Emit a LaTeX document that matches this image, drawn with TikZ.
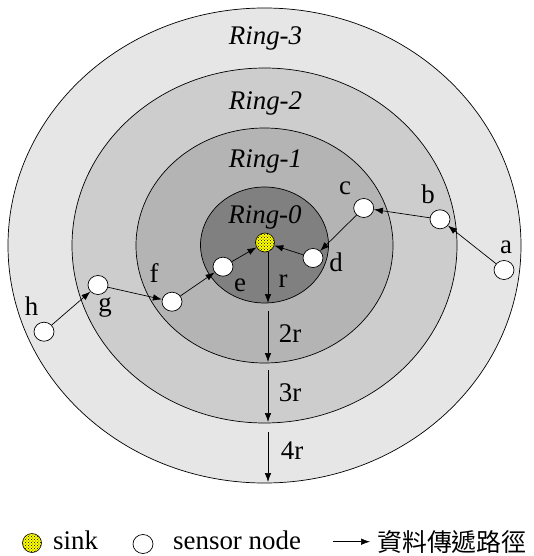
\documentclass[tikz,border=0pt]{standalone}
\usepackage{fontspec}
\setmainfont{Liberation Serif}
\newfontfamily\cjk{Noto Sans CJK TC}
\usetikzlibrary{shapes.geometric,arrows.meta,patterns}
\definecolor{ringthree}{HTML}{E6E6E6}
\definecolor{ringtwo}{HTML}{CDCDCD}
\definecolor{ringone}{HTML}{B4B4B4}
\definecolor{ringzero}{HTML}{808080}
\definecolor{sinkyellow}{HTML}{FFFF00}
\tikzset{
  ringline/.style={draw=black, line width=0.7bp},
  sensor/.style={ellipse, draw=black, fill=white, line width=0.7bp, minimum width=20bp, minimum height=19bp, inner sep=0pt},
  sinknode/.style={circle, draw=black, line width=0.6bp, minimum size=19bp, inner sep=0pt, preaction={fill=sinkyellow}, pattern=crosshatch dots, pattern color=black},
  flow/.style={line width=0.7bp, -{Latex[length=9bp,width=6.5bp]}},
  lbl/.style={font=\fontsize{27}{30}\selectfont, inner sep=0pt, anchor=base},
  ringlbl/.style={font=\fontsize{27}{30}\selectfont\itshape, inner sep=0pt, anchor=base},
}
\begin{document}
\begin{tikzpicture}[x=1bp,y=-1bp]
\useasboundingbox (0,0) rectangle (534,556);
\fill[white] (0,0) rectangle (534,556);
% rings
\path[ringline, fill=ringthree] (264.5,245.5) ellipse [x radius=256.5, y radius=237.5];
\path[ringline, fill=ringtwo] (264.5,245.5) ellipse [x radius=192.5, y radius=177.5];
\path[ringline, fill=ringone] (264.5,245.5) ellipse [x radius=128.5, y radius=117.5];
\path[ringline, fill=ringzero] (264.5,245) ellipse [x radius=64, y radius=58];
% ring labels
\node[ringlbl] (l3) at (265.5,45) {Ring-3};
\node[ringlbl] (l2) at (265.5,110) {Ring-2};
\node[ringlbl] (l1) at (265.5,168) {Ring-1};
\node[ringlbl] (l0) at (265,223) {Ring-0};
% nodes
\node[sinknode] (sink) at (265,242.5) {};
\node[sensor] (a) at (504,270) {};
\node[sensor] (b) at (440,219.3) {};
\node[sensor] (c) at (363.7,208) {};
\node[sensor] (d) at (313,258) {};
\node[sensor] (e) at (223,266.7) {};
\node[sensor] (f) at (172,301.7) {};
\node[sensor] (g) at (98,285) {};
\node[sensor] (h) at (44,331.7) {};
% node labels
\node[lbl] (la) at (506,253.3) {a};
\node[lbl] (lb) at (428,203.3) {b};
\node[lbl] (lc) at (345,194.3) {c};
\node[lbl] (ld) at (336,271) {d};
\node[lbl] (le) at (240,291.7) {e};
\node[lbl] (lf) at (154,282.7) {f};
\node[lbl] (lg) at (105,311.7) {g};
\node[lbl] (lh) at (31.7,315) {h};
% paths
\draw[flow] (a) -- (b);
\draw[flow] (b) -- (c);
\draw[flow] (c) -- (d);
\draw[flow] (d) -- (sink);
\draw[flow] (h) -- (g);
\draw[flow] (g) -- (f);
\draw[flow] (f) -- (e);
\draw[flow] (e) -- (sink);
% radius arrows
\coordinate (r1s) at (268,252);
\coordinate (r1e) at (268,303);
\coordinate (r2s) at (268,311);
\coordinate (r2e) at (268,362);
\coordinate (r3s) at (268,370);
\coordinate (r3e) at (268,422);
\coordinate (r4s) at (268,432);
\coordinate (r4e) at (268,482);
\draw[flow] (r1s) -- (r1e);
\draw[flow] (r2s) -- (r2e);
\draw[flow] (r3s) -- (r3e);
\draw[flow] (r4s) -- (r4e);
\node[lbl] (lr1) at (283,287.3) {r};
\node[lbl] (lr2) at (290,342) {2r};
\node[lbl] (lr3) at (290,401) {3r};
\node[lbl] (lr4) at (292,459) {4r};
% legend
\node[sinknode] (legsink) at (32,543) {};
\node[lbl, anchor=base west] (legsinkt) at (53,549) {sink};
\node[sensor] (legsensor) at (143,544) {};
\node[lbl, anchor=base west] (legsensort) at (173,549) {sensor node};
\coordinate (legas) at (333,541.7);
\coordinate (legae) at (370,541.7);
\draw[flow] (legas) -- (legae);
\node[font=\fontsize{25}{28}\selectfont\cjk, inner sep=0pt, anchor=west] (legpath) at (377,542.5) {資料傳遞路徑};
\end{tikzpicture}
\end{document}
